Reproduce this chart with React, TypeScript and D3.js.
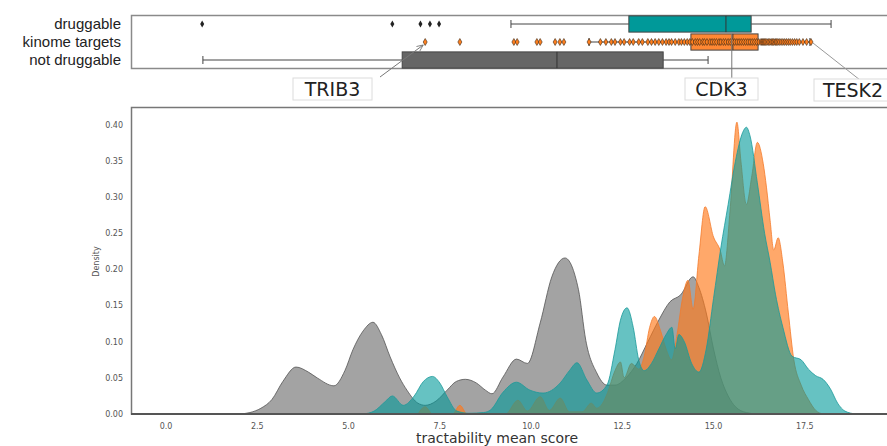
import React, { useRef, useEffect } from "react";
import * as d3 from "d3";

// box plot rows, top to bottom
const groups = ["druggable", "kinome targets", "not druggable"];
const boxFill = ["#009999", "#ff8833", "#666666"];

// [whisker low, q1, median, q3, whisker high]
const druggableBox = [9.45, 12.68, 15.34, 16.03, 18.22];
const kinomeBox = [11.59, 14.38, 15.53, 16.22, 17.64];
const notDruggableBox = [1.01, 6.47, 10.71, 13.62, 14.85];

const druggableOutliers = [0.99, 6.2, 6.97, 7.23, 7.48];
const kinomeOutliers = [7.1, 8.05, 9.53, 9.62, 10.16, 10.25, 10.66, 10.79, 10.9];
const kinomePoints = [
  11.59, 11.9, 12.05, 12.2, 12.3, 12.45, 12.55, 12.7, 12.8, 12.95, 13.05, 13.2,
  13.3, 13.4, 13.5, 13.6, 13.7, 13.78, 13.85, 13.95, 14.05, 14.12, 14.2, 14.28,
  14.35, 14.42, 14.5, 14.56, 14.62, 14.7, 14.75, 14.82, 14.9, 14.96, 15.02,
  15.08, 15.15, 15.2, 15.27, 15.33, 15.4, 15.46, 15.52, 15.58, 15.64, 15.7,
  15.76, 15.82, 15.88, 15.94, 16.0, 16.06, 16.12, 16.18, 16.24, 16.3, 16.33,
  16.36, 16.39, 16.42, 16.46, 16.5, 16.54, 16.58, 16.62, 16.65, 16.69, 16.72,
  16.76, 16.8, 16.85, 16.9, 16.95, 17.0, 17.05, 17.1, 17.16, 17.22, 17.28,
  17.35, 17.45, 17.55, 17.67,
];

// density curves: [tractability mean score, density]
const notDruggableDensity = [
  [2.0, 0], [2.3, 0.002], [2.6, 0.008], [2.9, 0.02], [3.2, 0.045], [3.56, 0.065],
  [3.9, 0.058], [4.14, 0.05], [4.6, 0.039], [4.9, 0.06], [5.12, 0.089], [5.4, 0.115],
  [5.67, 0.127], [5.9, 0.11], [6.14, 0.079], [6.4, 0.05], [6.6, 0.033], [6.9, 0.015],
  [7.1, 0.012], [7.4, 0.018], [7.7, 0.033], [7.95, 0.045], [8.2, 0.048], [8.5, 0.043],
  [8.75, 0.033], [8.93, 0.028], [9.23, 0.051], [9.6, 0.076], [9.9, 0.07], [10.25, 0.126],
  [10.57, 0.19], [10.93, 0.216], [11.3, 0.172], [11.5, 0.102], [11.8, 0.057], [12.08, 0.04],
  [12.3, 0.04], [12.6, 0.05], [12.9, 0.07], [13.2, 0.1], [13.5, 0.13], [13.8, 0.155],
  [14.1, 0.165], [14.44, 0.19], [14.6, 0.175], [14.8, 0.14], [15.0, 0.09], [15.2, 0.05],
  [15.4, 0.025], [15.6, 0.01], [15.9, 0.002], [16.2, 0],
];
const kinomeDensity = [
  [6.9, 0], [7.1, 0.01], [7.3, 0], [7.85, 0], [8.05, 0.012], [8.25, 0], [9.3, 0],
  [9.64, 0.019], [9.9, 0.004], [10.25, 0.024], [10.5, 0.005], [10.8, 0.022], [11.05, 0.003],
  [11.4, 0.003], [11.65, 0.015], [11.8, 0.008], [11.95, 0.014], [12.1, 0.03], [12.3, 0.06],
  [12.45, 0.072], [12.55, 0.05], [12.75, 0.07], [12.95, 0.062], [13.1, 0.08], [13.25, 0.12],
  [13.38, 0.135], [13.55, 0.115], [13.7, 0.09], [13.85, 0.075], [14.0, 0.11], [14.15, 0.16],
  [14.3, 0.185], [14.44, 0.145], [14.6, 0.22], [14.77, 0.287], [15.0, 0.245], [15.18, 0.227],
  [15.3, 0.205], [15.45, 0.28], [15.64, 0.404], [15.75, 0.35], [15.9, 0.29], [16.05, 0.33],
  [16.2, 0.376], [16.36, 0.347], [16.45, 0.314], [16.55, 0.268], [16.65, 0.227], [16.77, 0.244],
  [16.9, 0.209], [17.05, 0.14], [17.2, 0.075], [17.4, 0.04], [17.6, 0.02], [17.8, 0.005], [18.0, 0],
];
const druggableDensity = [
  [5.4, 0], [5.7, 0.004], [6.0, 0.017], [6.2, 0.025], [6.5, 0.012], [6.8, 0.025], [7.05, 0.045],
  [7.3, 0.052], [7.5, 0.043], [7.7, 0.024], [7.97, 0.004], [8.3, 0.001], [8.7, 0.002], [8.9, 0.006],
  [9.23, 0.03], [9.6, 0.044], [9.97, 0.033], [10.33, 0.029], [10.8, 0.043], [11.05, 0.06],
  [11.26, 0.071], [11.53, 0.047], [11.8, 0.029], [12.08, 0.04], [12.3, 0.089], [12.45, 0.13],
  [12.63, 0.147], [12.8, 0.12], [12.95, 0.075], [13.1, 0.06], [13.3, 0.07], [13.5, 0.09],
  [13.7, 0.11], [13.86, 0.12], [13.95, 0.09], [14.05, 0.11], [14.2, 0.1], [14.4, 0.07],
  [14.6, 0.058], [14.8, 0.09], [15.0, 0.16], [15.2, 0.23], [15.4, 0.29], [15.6, 0.35],
  [15.8, 0.39], [15.9, 0.397], [16.0, 0.385], [16.2, 0.32], [16.4, 0.25], [16.55, 0.21],
  [16.7, 0.165], [16.9, 0.12], [17.15, 0.08], [17.4, 0.075], [17.6, 0.062], [17.8, 0.053],
  [18.0, 0.048], [18.2, 0.035], [18.4, 0.015], [18.6, 0.004], [18.9, 0],
];

const xTicks = [0, 2.5, 5, 7.5, 10, 12.5, 15, 17.5];
const yTicks = [0, 0.05, 0.1, 0.15, 0.2, 0.25, 0.3, 0.35, 0.4];

const W = 887;
const H = 446;

const App = () => {
  const ref = useRef(null);

  useEffect(() => {
    const svg = d3.select(ref.current);
    svg.selectAll("*").remove();

    const left = 131;
    const x = d3.scaleLinear().domain([-0.96, 19.8]).range([left, left + 36.5 * 20.76]);
    const y = d3.scaleLinear().domain([0, 0.425]).range([414, 107]);
    const rows = d3.scaleBand().domain(groups).range([15, 69]).paddingInner(0.1).paddingOuter(0.05);

    // ---------- box plot panel ----------
    const top = svg.append("g");
    top.append("path")
      .attr("d", `M${W + 5},15.5 H${left + 0.5} V68.5 H${W + 5}`)
      .attr("fill", "none").attr("stroke", "#8a8a8a").attr("stroke-width", 1.5);

    top.selectAll("text.row").data(groups).enter().append("text")
      .attr("x", 121)
      .attr("y", (d) => rows(d)! + rows.bandwidth() / 2)
      .attr("dy", "0.35em")
      .attr("text-anchor", "end")
      .style("font-family", "'Liberation Sans', Arial, sans-serif")
      .style("font-size", "15px")
      .attr("fill", "#222")
      .text((d) => d);

    const boxes = [druggableBox, kinomeBox, notDruggableBox];
    boxes.forEach((b, i) => {
      const g = top.append("g");
      const y0 = rows(groups[i])!;
      const bh = rows.bandwidth();
      const cy = y0 + bh / 2;
      g.append("line").attr("x1", x(b[0])).attr("x2", x(b[1])).attr("y1", cy).attr("y2", cy)
        .attr("stroke", "#444").attr("stroke-width", 1);
      g.append("line").attr("x1", x(b[3])).attr("x2", x(b[4])).attr("y1", cy).attr("y2", cy)
        .attr("stroke", "#444").attr("stroke-width", 1);
      [b[0], b[4]].forEach((v) => {
        g.append("line").attr("x1", x(v)).attr("x2", x(v)).attr("y1", cy - 4).attr("y2", cy + 4)
          .attr("stroke", "#444").attr("stroke-width", 1);
      });
      g.append("rect")
        .attr("x", x(b[1])).attr("y", y0).attr("width", x(b[3]) - x(b[1])).attr("height", bh)
        .attr("fill", boxFill[i]).attr("stroke", "#444").attr("stroke-width", 1);
      g.append("line").attr("x1", x(b[2])).attr("x2", x(b[2])).attr("y1", y0).attr("y2", y0 + bh)
        .attr("stroke", "#333").attr("stroke-width", 1);
    });

    const diamond = d3.symbol().type(d3.symbolDiamond).size(14);
    const drugY = rows(groups[0])! + rows.bandwidth() / 2;
    top.selectAll("path.dout").data(druggableOutliers).enter().append("path")
      .attr("d", diamond)
      .attr("transform", (d) => `translate(${x(d)},${drugY})`)
      .attr("fill", "#222");

    const kinY = rows(groups[1])! + rows.bandwidth() / 2;
    top.selectAll("path.kout").data(kinomeOutliers.concat(kinomePoints)).enter().append("path")
      .attr("d", diamond)
      .attr("transform", (d) => `translate(${x(d)},${kinY})`)
      .attr("fill", "#ff7f1e").attr("stroke", "#3a2a1a").attr("stroke-width", 0.6);

    // ---------- annotations ----------
    const ann = svg.append("g").style("font-family", "'DejaVu Sans', Verdana, sans-serif");
    const labels = [
      { text: "TRIB3", x0: 293, x1: 372, y0: 78, y1: 100 },
      { text: "CDK3", x0: 685, x1: 758, y0: 78, y1: 100 },
      { text: "TESK2", x0: 814, x1: 892, y0: 79, y1: 101 },
    ];
    svg.append("defs").append("marker")
      .attr("id", "arr").attr("viewBox", "0 0 10 10").attr("refX", 9).attr("refY", 5)
      .attr("markerWidth", 7).attr("markerHeight", 7).attr("orient", "auto")
      .append("path").attr("d", "M0,1 L9,5 L0,9").attr("fill", "none").attr("stroke", "#777").attr("stroke-width", 1.2);
    ann.append("line").attr("x1", 380).attr("y1", 77).attr("x2", x(kinomeOutliers[0]) - 2).attr("y2", kinY + 3)
      .attr("stroke", "#777").attr("stroke-width", 1).attr("marker-end", "url(#arr)");
    ann.append("line").attr("x1", x(15.5)).attr("y1", 34).attr("x2", x(15.5)).attr("y2", 78)
      .attr("stroke", "#777").attr("stroke-width", 1);
    ann.append("line").attr("x1", x(17.67) + 2).attr("y1", kinY + 1).attr("x2", 860).attr("y2", 80)
      .attr("stroke", "#999").attr("stroke-width", 1);
    labels.forEach((l) => {
      ann.append("rect").attr("x", l.x0).attr("y", l.y0).attr("width", l.x1 - l.x0).attr("height", l.y1 - l.y0)
        .attr("fill", "#fff").attr("stroke", "#dcdcdc").attr("stroke-width", 1);
      ann.append("text").attr("x", (l.x0 + l.x1) / 2).attr("y", (l.y0 + l.y1) / 2).attr("dy", "0.36em")
        .attr("text-anchor", "middle").style("font-size", "19px").attr("fill", "#222").text(l.text);
    });

    // ---------- density panel ----------
    const dens = svg.append("g");
    const area = d3.area<number[]>()
      .x((d) => x(d[0])).y0(y(0)).y1((d) => y(d[1]))
      .curve(d3.curveMonotoneX);
    const line = d3.line<number[]>().x((d) => x(d[0])).y((d) => y(d[1])).curve(d3.curveMonotoneX);

    const series = [
      { data: notDruggableDensity, fill: "#666666", op: 0.6, edge: "#555" },
      { data: kinomeDensity, fill: "#ff7a1a", op: 0.65, edge: "#f47a2a" },
      { data: druggableDensity, fill: "#009999", op: 0.6, edge: "#1a9a9a" },
    ];
    series.forEach((s) => {
      dens.append("path").datum(s.data).attr("d", area).attr("fill", s.fill).attr("fill-opacity", s.op);
      dens.append("path").datum(s.data).attr("d", line).attr("fill", "none")
        .attr("stroke", s.edge).attr("stroke-width", 1).attr("stroke-opacity", 0.8);
    });

    // spines
    dens.append("path")
      .attr("d", `M${W + 5},107.5 H${left + 0.5} V414 H${W + 5}`)
      .attr("fill", "none").attr("stroke", "#777").attr("stroke-width", 1.5);
    dens.append("line").attr("x1", left).attr("x2", W + 5).attr("y1", 414).attr("y2", 414)
      .attr("stroke", "#555").attr("stroke-width", 2);

    const tickFont = "'DejaVu Sans', Verdana, sans-serif";
    dens.selectAll("text.yt").data(yTicks).enter().append("text")
      .attr("x", 123).attr("y", (d) => y(d)).attr("dy", "0.35em").attr("text-anchor", "end")
      .style("font-family", tickFont).style("font-size", "8px").attr("fill", "#555")
      .text((d) => d3.format(".2f")(d));
    dens.selectAll("text.xt").data(xTicks).enter().append("text")
      .attr("x", (d) => x(d)).attr("y", 426).attr("dy", "0.35em").attr("text-anchor", "middle")
      .style("font-family", tickFont).style("font-size", "8px").attr("fill", "#555")
      .text((d) => d3.format(".1f")(d));

    dens.append("text")
      .attr("transform", `translate(96,${y(0.2) - 8}) rotate(-90)`)
      .attr("text-anchor", "middle").attr("dy", "0.35em")
      .style("font-family", tickFont).style("font-size", "8px").attr("fill", "#555")
      .text("Density");
    dens.append("text")
      .attr("x", 497).attr("y", 443)
      .attr("text-anchor", "middle")
      .style("font-family", tickFont).style("font-size", "14px").attr("fill", "#333")
      .text("tractability mean score");
  }, []);

  return (
    <svg
      ref={ref}
      width={W}
      height={H}
      style={{ position: "absolute", left: 0, top: 0, display: "block", background: "#fff" }}
    ></svg>
  );
};

export default App;
